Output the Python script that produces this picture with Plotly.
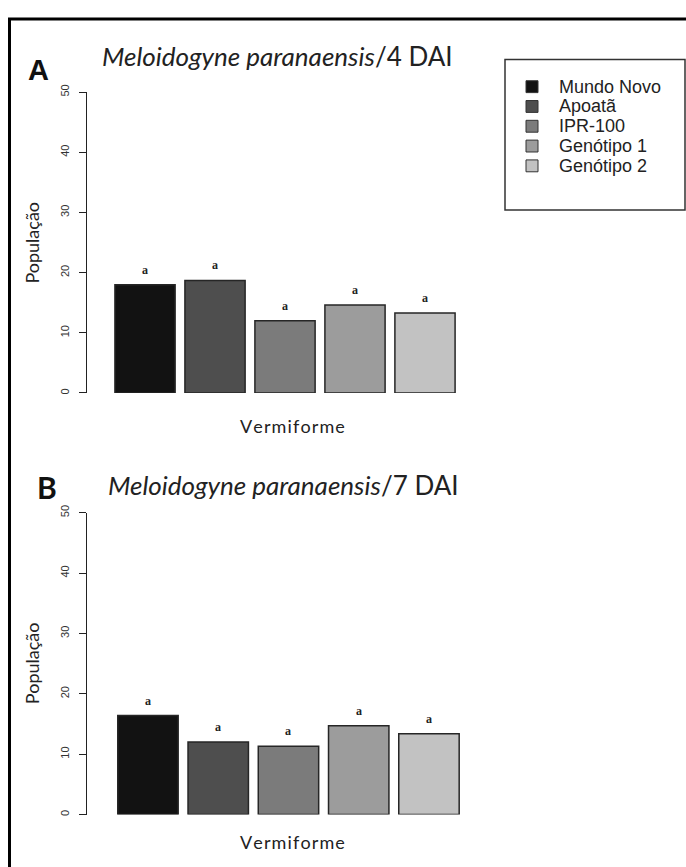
import plotly.graph_objects as go

# ---------------- data ----------------
genotypes = ["Mundo Novo", "Apoatã", "IPR-100", "Genótipo 1", "Genótipo 2"]
pop_4dai = [18.0, 18.7, 12.0, 14.6, 13.3]
pop_7dai = [16.4, 12.0, 11.3, 14.7, 13.4]
letters_4dai = ["a", "a", "a", "a", "a"]
letters_7dai = ["a", "a", "a", "a", "a"]
y_ticks = [0, 10, 20, 30, 40, 50]
bar_colors = ["#121212", "#4e4e4e", "#7b7b7b", "#9c9c9c", "#c2c2c2"]

W, H = 686, 867


def px(x):
    return x / W


def py(y):
    return 1 - y / H


fig = go.Figure()

fig.add_trace(go.Bar(x=genotypes, y=pop_4dai, marker=dict(color=bar_colors, line=dict(color="#262626", width=1.5)),
                     width=0.86, xaxis="x", yaxis="y", showlegend=False, cliponaxis=False))
fig.add_trace(go.Bar(x=genotypes, y=pop_7dai, marker=dict(color=bar_colors, line=dict(color="#262626", width=1.5)),
                     width=0.86, xaxis="x2", yaxis="y2", showlegend=False, cliponaxis=False))

yax = dict(range=[0, 50], showline=True, linecolor="#222222", linewidth=1, ticks="outside", ticklen=7,
           tickcolor="#222222", tickvals=y_ticks, tickangle=-90, showgrid=False, zeroline=False,
           tickfont=dict(family="Arial, Liberation Sans", size=11, color="#333333"), ticklabelstandoff=6)

fig.update_layout(
    width=W, height=H, margin=dict(l=0, r=0, t=0, b=0),
    paper_bgcolor="white", plot_bgcolor="white",
    xaxis=dict(domain=[px(87), px(470)], range=[-0.829, 4.643], visible=False, anchor="y"),
    yaxis=dict(domain=[py(389), py(85)], anchor="x", **yax),
    xaxis2=dict(domain=[px(87), px(470)], range=[-0.868, 4.584], visible=False, anchor="y2"),
    yaxis2=dict(domain=[py(815), py(510)], anchor="x2", **yax),
)

ann = []
# significance letters
for g, v, l in zip(genotypes, pop_4dai, letters_4dai):
    ann.append(dict(x=g, y=v, xref="x", yref="y", text="<b>" + l + "</b>", showarrow=False, yshift=15,
                    font=dict(family="Liberation Serif, DejaVu Serif", size=12, color="#222")))
for g, v, l in zip(genotypes, pop_7dai, letters_7dai):
    ann.append(dict(x=g, y=v, xref="x2", yref="y2", text="<b>" + l + "</b>", showarrow=False, yshift=15,
                    font=dict(family="Liberation Serif, DejaVu Serif", size=12, color="#222")))

title_font = "Lato, Open Sans, sans-serif"
# panel titles
ann.append(dict(x=px(100), y=py(49), xref="paper", yref="paper", xanchor="left", yanchor="middle",
                text="<i>Meloidogyne paranaensis</i>/4 DAI", showarrow=False,
                font=dict(family=title_font, size=26, color="#222")))
ann.append(dict(x=px(106), y=py(482), xref="paper", yref="paper", xanchor="left", yanchor="middle",
                text="<i>Meloidogyne paranaensis</i>/7 DAI", showarrow=False,
                font=dict(family=title_font, size=26, color="#222")))
# panel letters
ann.append(dict(x=px(38), y=py(63), xref="paper", yref="paper", xanchor="center", yanchor="middle",
                text="<b>A</b>", showarrow=False, font=dict(family="Arial, Liberation Sans", size=29, color="#111")))
ann.append(dict(x=px(47), y=py(484), xref="paper", yref="paper", xanchor="center", yanchor="middle",
                text="<b>B</b>", showarrow=False, font=dict(family=title_font, size=30, color="#111")))
# y titles
for yc in (237, 662):
    ann.append(dict(x=px(32), y=py(yc), xref="paper", yref="paper", xanchor="center", yanchor="middle",
                    text="População", textangle=-90, showarrow=False,
                    font=dict(family=title_font, size=18, color="#222")))
# x titles
for yc in (422, 843):
    ann.append(dict(x=px(292), y=py(yc), xref="paper", yref="paper", xanchor="center", yanchor="middle",
                    text="\u200a".join("Vermiforme"), showarrow=False,
                    font=dict(family=title_font, size=18, color="#222")))

shapes = []
# outer frame
shapes.append(dict(type="rect", xref="paper", yref="paper", x0=px(9.5), x1=px(700), y0=py(11), y1=py(900),
                   line=dict(color="black", width=3), fillcolor="rgba(0,0,0,0)"))
# legend box
shapes.append(dict(type="rect", xref="paper", yref="paper", x0=px(505), x1=px(685), y0=py(52), y1=py(204),
                   line=dict(color="#333333", width=1.5), fillcolor="white"))
row_y = [79.5, 99.5, 119.5, 139.5, 159.5]
for g, c, ry in zip(genotypes, bar_colors, row_y):
    shapes.append(dict(type="rect", xref="paper", yref="paper", x0=px(526), x1=px(538), y0=py(ry + 6),
                       y1=py(ry - 6), line=dict(color="#333333", width=1), fillcolor=c))
    ann.append(dict(x=px(557), y=py(ry), xref="paper", yref="paper", xanchor="left", yanchor="middle",
                    text=g, showarrow=False, font=dict(family="Arial, Liberation Sans", size=18, color="#222")))

fig.update_layout(annotations=ann, shapes=shapes)
fig.write_html(
    "out.html",
    config={"displayModeBar": False},
    post_script=(
        "var d=document.getElementById('{plot_id}');"
        "document.body.appendChild(d);"
        "Array.prototype.forEach.call(document.body.children,function(k){if(k!==d){k.style.display='none';}});"
        "var h=document.documentElement,b=document.body;"
        "h.style.margin='0';h.style.padding='0';b.style.margin='0';b.style.padding='0';"
        "h.style.overflow='hidden';b.style.overflow='hidden';"
        "h.style.height='867px';b.style.height='867px';"
        "d.style.position='absolute';d.style.left='0px';d.style.top='0px';"
    ),
)
